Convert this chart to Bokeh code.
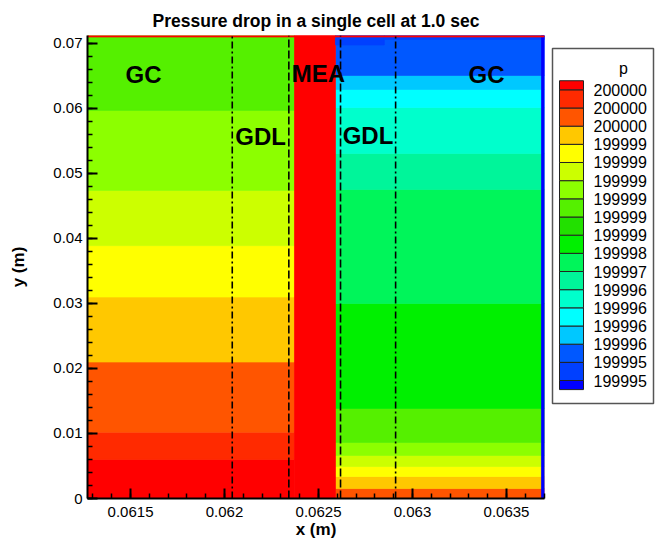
from bokeh.plotting import figure
from bokeh.layouts import row
from bokeh.models import Range1d, SingleIntervalTicker, CustomJSTickFormatter, ColumnDataSource
from bokeh.core.properties import value
from bokeh.embed import file_html
from bokeh.resources import INLINE

FONT = value("Liberation Sans")

# ---- cell geometry (m) ----
x_start, x_end = 0.061271, 0.063702
y_bottom, y_top = 0.0, 0.07123
gc_gdl_left = 0.062041
gdl_mea_left = 0.062342
mea_left, mea_right = 0.062372, 0.062590
gdl_mea_right = 0.062617
gc_gdl_right = 0.062910

# ---- contour levels (colour index 0 = lowest pressure) ----
level_colors = ["#0000FF", "#0040FF", "#0058FF", "#00C8FF", "#00FFFF", "#00FFCC",
                "#00F59A", "#00F55A", "#00F000", "#22E000", "#55F000", "#8CFF00",
                "#CCFF00", "#FFFF00", "#FFC800", "#FF5500", "#FF2A00", "#FF0000"]
# pressure (Pa) at each level boundary, low -> high
level_labels = ["199995", "199995", "199996", "199996", "199996", "199996", "199997",
                "199998", "199999", "199999", "199999", "199999", "199999", "199999",
                "200000", "200000", "200000"]

# ---- pressure bands on the left side (GC + GDL) ----
left_edges = [0.0, 0.0060, 0.0102, 0.0210, 0.0310, 0.0389, 0.0474, 0.0597, y_top]
left_levels = [17, 16, 15, 14, 13, 12, 11, 10]

# ---- pressure bands on the right side (GDL + GC) ----
right_edges = [0.0, 0.00154, 0.00338, 0.00492, 0.00662, 0.00862, 0.01385, 0.0300,
               0.04754, 0.05308, 0.06015, 0.06292, 0.06508, y_top]
right_levels = [15, 14, 13, 12, 11, 10, 8, 7, 6, 5, 4, 3, 2]

# low-pressure strip along the top of the right channel
strip_x = [mea_right, 0.06285, x_end]
strip_bottom = [0.06977, 0.07062]
strip_level = 1

# outer wall / inlet rows
wall_left = 0.063686
inlet_bottom = 0.07100

# region names
region_names = ["GC", "GDL", "MEA", "GDL", "GC"]
region_x = [0.061569, 0.062192, 0.0625, 0.062763, 0.063394]
region_y = [0.06523, 0.0557, 0.06538, 0.05592, 0.06523]

# ---- assemble cells ----
cells = dict(left=[], right=[], bottom=[], top=[], color=[])


def add_cell(x0, x1, y0, y1, lvl):
    cells["left"].append(x0)
    cells["right"].append(x1)
    cells["bottom"].append(y0)
    cells["top"].append(y1)
    cells["color"].append(level_colors[lvl])


for i, lvl in enumerate(left_levels):
    add_cell(x_start, mea_left, left_edges[i], left_edges[i + 1], lvl)
for i, lvl in enumerate(right_levels):
    add_cell(mea_right, x_end, right_edges[i], right_edges[i + 1], lvl)
add_cell(mea_left, mea_right, y_bottom, y_top, 17)
for i in range(len(strip_bottom)):
    add_cell(strip_x[i], strip_x[i + 1], strip_bottom[i], y_top, strip_level)
add_cell(wall_left, x_end, y_bottom, y_top, 0)
add_cell(x_start, x_end, inlet_bottom, y_top, 17)

p = figure(frame_width=457, frame_height=463,
           min_border_left=87, min_border_right=4, min_border_top=35, min_border_bottom=51,
           x_range=Range1d(x_start, x_end), y_range=Range1d(y_bottom, y_top),
           title="Pressure drop in a single cell at 1.0 sec",
           toolbar_location=None, output_backend="svg")
p.background_fill_color = "white"
p.border_fill_color = "white"
p.outline_line_color = None
p.grid.visible = False

# cells are stroked in their own colour so neighbouring bands join without seams
p.quad(left="left", right="right", bottom="bottom", top="top", fill_color="color",
       line_color="color", line_width=0.7, source=ColumnDataSource(cells))

# layer interfaces
p.segment(x0=[gc_gdl_left, gc_gdl_right], x1=[gc_gdl_left, gc_gdl_right],
          y0=[y_bottom] * 2, y1=[y_top] * 2,
          line_color="black", line_width=1.6, line_dash="7 3 2 3")
p.segment(x0=[gdl_mea_left, gdl_mea_right], x1=[gdl_mea_left, gdl_mea_right],
          y0=[y_bottom] * 2, y1=[y_top] * 2,
          line_color="black", line_width=1.6, line_dash="8 3")

p.text(x=region_x, y=region_y, text=region_names, text_font=FONT,
       text_font_style="bold", text_font_size="24px", text_color="black",
       text_align="center", text_baseline="middle")

p.title.text_font = "Liberation Sans"
p.title.text_font_size = "17.5px"
p.title.text_font_style = "bold"
p.title.text_color = "black"
p.title.align = "center"
p.title.standoff = 10

p.xaxis.ticker = SingleIntervalTicker(interval=0.0005, num_minor_ticks=5)
p.yaxis.ticker = SingleIntervalTicker(interval=0.01, num_minor_ticks=5)
fmt = CustomJSTickFormatter(code="return Number(tick.toPrecision(6)).toString();")
p.xaxis.formatter = fmt
p.yaxis.formatter = fmt
p.xaxis.axis_label = "x (m)"
p.yaxis.axis_label = "y (m)"
for ax in (p.xaxis, p.yaxis):
    ax.axis_label_text_font = "Liberation Sans"
    ax.axis_label_text_font_style = "bold"
    ax.axis_label_text_font_size = "17px"
    ax.axis_label_text_color = "black"
    ax.major_label_text_font = "Liberation Sans"
    ax.major_label_text_font_size = "15px"
    ax.major_label_text_color = "black"
    ax.axis_line_width = 2
    ax.axis_line_color = "black"
    ax.major_tick_in = 10
    ax.major_tick_out = 0
    ax.minor_tick_in = 5
    ax.minor_tick_out = 0
    ax.major_tick_line_width = 2
    ax.minor_tick_line_width = 1.5
    ax.major_tick_line_color = "black"
    ax.minor_tick_line_color = "black"
p.xaxis.major_label_standoff = 8
p.xaxis.axis_label_standoff = 0
p.yaxis.major_label_standoff = 5
p.yaxis.axis_label_standoff = 22

# ---- contour key (same vertical frame as the main plot) ----
key = figure(frame_width=117, frame_height=463,
             min_border_left=0, min_border_right=0, min_border_top=35, min_border_bottom=51,
             x_range=Range1d(-4, 113), y_range=Range1d(-5.494, 19.99),
             x_axis_location=None, y_axis_location=None,
             toolbar_location=None, output_backend="svg")
key.background_fill_color = "white"
key.border_fill_color = "white"
key.outline_line_color = None
key.grid.visible = False

# key frame box
key.quad(left=[0], right=[101], bottom=[-0.266], top=[19.275], fill_color=None,
         line_color="#555555", line_width=1.5)

n_levels = len(level_colors)
band_bottom = [0.5] + list(range(1, n_levels))
band_top = list(range(1, n_levels)) + [n_levels - 0.5]
key.quad(left=7, right=31, bottom=band_bottom, top=band_top, color=level_colors,
         line_color="#222222", line_width=1)
key.text(x=41, y=list(range(1, n_levels)), text=level_labels, text_font=FONT,
         text_font_size="16px", text_align="left", text_baseline="middle", text_color="black")
key.text(x=[71], y=[18.17], text=["p"], text_font=FONT, text_font_size="16px",
         text_align="center", text_baseline="middle", text_color="black")

layout = row(p, key)
open("out.html", "w").write(file_html(layout, INLINE))
